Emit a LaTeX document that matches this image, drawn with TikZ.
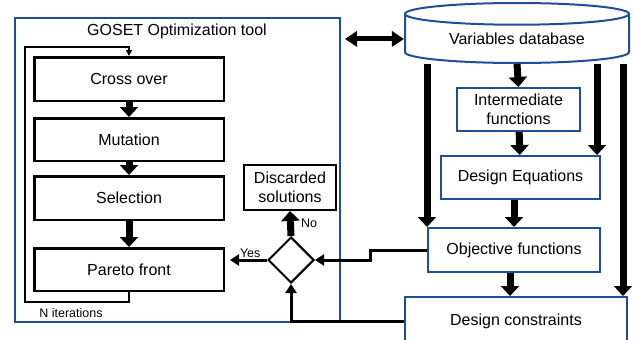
\documentclass[tikz,border=0pt]{standalone}
\usepackage{fontspec}
\setmainfont{Liberation Sans}
\usetikzlibrary{arrows.meta, calc, positioning, shapes.geometric}
\definecolor{frameblue}{RGB}{31,78,150}
\newcommand{\bigtxt}{\fontsize{16}{19.5}\selectfont}
\newcommand{\smalltxt}{\fontsize{12.5}{15}\selectfont}

\begin{document}
\begin{tikzpicture}[
    x=1pt, y=-1pt,
    every node/.style={font=\bigtxt},
    stepbox/.style ={draw, line width=2.5pt, align=center, inner sep=2pt,
                     minimum width=189.5pt, minimum height=43.5pt},
    funcbox/.style ={draw=frameblue, line width=2pt, align=center, inner sep=2pt},
    flow/.style    ={-{Triangle[width=18pt,length=10pt]}, line width=7pt},
    link/.style    ={-{Triangle[width=11pt,length=9pt]}, line width=3pt},
    iter/.style    ={-{Triangle[width=6pt,length=6pt]}, line width=1.5pt},
    lbl/.style     ={font=\smalltxt, inner sep=1pt},
]
\useasboundingbox (0,0) rectangle (633,340);

% optimiser frame and its loop
\node[draw=frameblue, line width=2pt, minimum width=325pt, minimum height=304pt]
     (goset) at (177.5,170) {};
\node (title) at (177,31) {GOSET Optimization tool};
\node[stepbox] (cross) at (129,79) {Cross over};
\node[stepbox, below=15pt of cross, minimum height=42.5pt] (mut) {Mutation};
\node[stepbox, below=13pt of mut]  (sel) {Selection};
\node[stepbox, below=26pt of sel, minimum height=42.5pt] (pareto) {Pareto front};
\node[lbl] (niter) at (71,313) {N iterations};

\draw[flow] (cross) -- (mut);
\draw[flow] (mut)   -- (sel);
\draw[flow] (sel)   -- (pareto);
\draw[iter] (pareto.south) -- ++(0,10)
            -| ([xshift=-8pt, yshift=9pt]cross.north west) -| (cross.north);

% decision
\node[draw, diamond, line width=2pt, minimum width=46pt, minimum height=46pt,
      inner sep=0pt] (dec) at (291,260) {};
\node[draw, line width=2pt, align=center, minimum width=92pt, minimum height=45pt,
      inner sep=1pt] (disc) at (290,187.5) {Discarded\\solutions};
\draw[flow] (dec.north) -- node[lbl, right=6pt]{No} (disc.south);
\draw[link, shorten >=5pt] (dec.west) -- node[lbl, above, pos=0.4]{Yes}
     (pareto.east |- dec.west);

% model side
\node[cylinder, shape border rotate=90, draw=frameblue, line width=2pt,
      aspect=0.16, minimum width=224pt, minimum height=60pt, inner sep=0pt,
      anchor=shape center] (db) at (517,33) {Variables database};
\node[funcbox, minimum width=123pt, minimum height=43pt] (inter) at (518.5,109.5)
     {Intermediate\\functions};
\node[funcbox, minimum width=159pt, minimum height=43pt] (deq) at (520.5,177.5)
     {Design Equations};
\node[funcbox, minimum width=172pt, minimum height=44pt] (obj) at (514,250)
     {Objective functions};
\node[funcbox, minimum width=222pt, minimum height=48pt] (cons) at (516,321)
     {Design constraints};

\draw[{Triangle[width=15pt,length=12pt]}-{Triangle[width=15pt,length=12pt]},
      line width=5pt] ([xshift=4pt]goset.east |- db.center) -- (db.west |- db.center);
\draw[flow] (db.south) -- (inter.north);
\draw[flow] (inter)    -- (deq);
\draw[flow] (obj.north |- deq.south) -- (obj.north);
\draw[flow] ([xshift=-4pt]obj.south) -- ([xshift=-4pt]obj.south |- cons.north);
\draw[flow] (obj.north west |- db.south) -- (obj.north west);
\draw[flow] ([xshift=-4pt]deq.north east |- db.south) -- ([xshift=-4pt]deq.north east);
\draw[flow] ([xshift=-5pt]cons.north east |- db.south) -- ([xshift=-5pt]cons.north east);

% feedback into the decision
\draw[link] (obj.west) -- ++(-57,0) |- (dec.east);
\draw[link] (cons.west) -| (dec.south);
\end{tikzpicture}
\end{document}
